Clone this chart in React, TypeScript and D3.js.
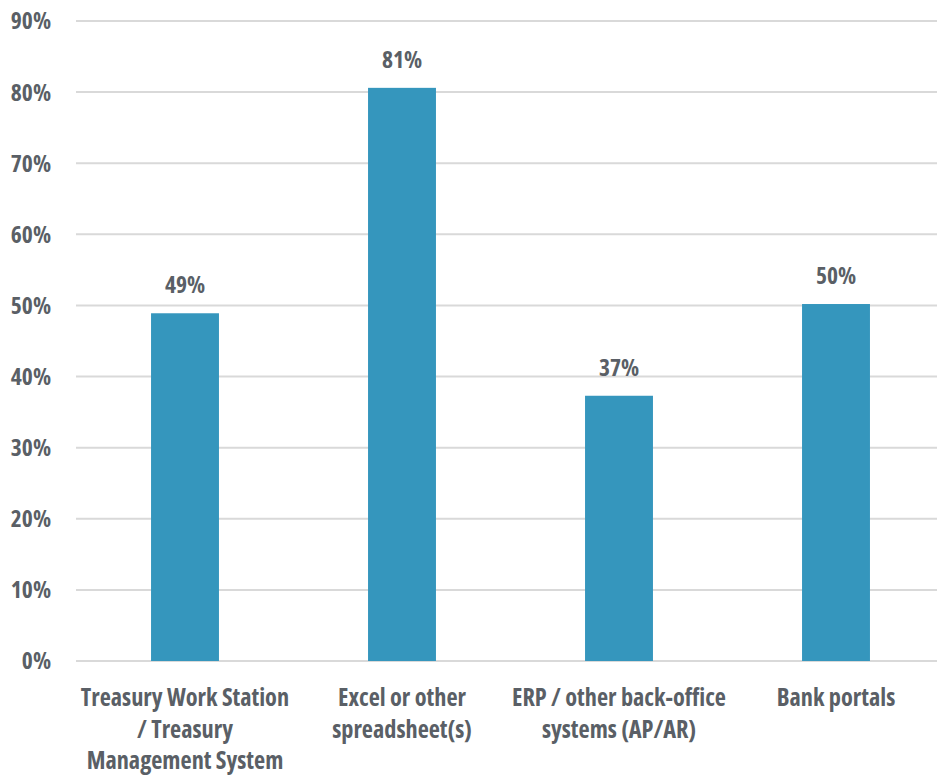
import React from "react";
import * as d3 from "d3";

const categories: string[][] = [
  ["Treasury Work Station", "/ Treasury", "Management System"],
  ["Excel or other", "spreadsheet(s)"],
  ["ERP / other back-office", "systems (AP/AR)"],
  ["Bank portals"],
];
const values: number[] = [48.9, 80.6, 37.3, 50.2];
const valueLabels: string[] = ["49%", "81%", "37%", "50%"];
const yTicks: number[] = [0, 10, 20, 30, 40, 50, 60, 70, 80, 90];

const W = 937;
const H = 775;
const FONT = "'Open Sans', 'Noto Sans', sans-serif";
const TEXT = "#5A5F66";

export default function App() {
  const y = d3.scaleLinear().domain([0, 90]).range([661, 21]);
  const x = d3
    .scaleBand<number>()
    .domain(values.map((_, i) => i))
    .range([76.5, 944.5])
    .paddingInner(0.687)
    .paddingOuter(0.3435);
  const textStyle: React.CSSProperties = {
    fontFamily: FONT,
    fontWeight: 700,
    fontStretch: "condensed",
  };
  return (
    <svg
      width={W}
      height={H}
      style={{ position: "absolute", left: 0, top: 0, background: "#fff" }}
    >
      {yTicks.map((t) => (
        <g key={t}>
          <line x1={76} x2={937} y1={y(t)} y2={y(t)} stroke="#D9D9D9" strokeWidth={2} />
          <text
            x={51}
            y={y(t)}
            dy="0.36em"
            textAnchor="end"
            fill={TEXT}
            fontSize={23.5}
            style={textStyle}
          >
            {t}%
          </text>
        </g>
      ))}
      {values.map((v, i) => (
        <g key={i}>
          <rect
            x={x(i)}
            y={y(v)}
            width={x.bandwidth()}
            height={y(0) - y(v)}
            fill="#3596BD"
          />
          <text
            x={(x(i) as number) + x.bandwidth() / 2}
            y={y(v) - 20}
            textAnchor="middle"
            fill={TEXT}
            fontSize={23.5}
            style={textStyle}
          >
            {valueLabels[i]}
          </text>
          {categories[i].map((line, j) => (
            <text
              key={j}
              x={(x(i) as number) + x.bandwidth() / 2}
              y={706 + j * 31.5}
              textAnchor="middle"
              fill={TEXT}
              fontSize={24.3}
              style={textStyle}
            >
              {line}
            </text>
          ))}
        </g>
      ))}
    </svg>
  );
}
